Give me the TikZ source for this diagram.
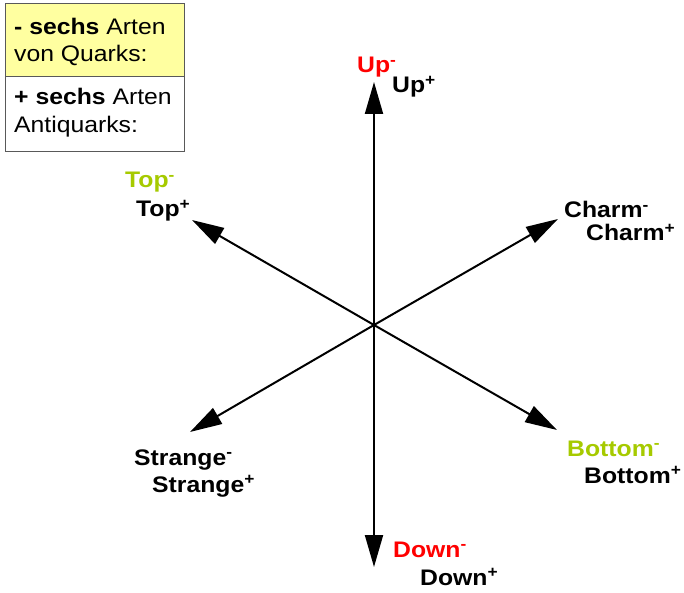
\documentclass[tikz,border=0pt]{standalone}
\usepackage{fontspec}
\setmainfont[FakeStretch=1.1]{Liberation Sans}
\usetikzlibrary{arrows.meta}
\definecolor{quarkgreen}{RGB}{166,202,0}
\definecolor{quarkyellow}{RGB}{255,255,160}
\tikzset{
  vec/.style={line width=2pt, -{Triangle[length=32pt,width=18pt]}},
  lbl/.style={anchor=base west, inner sep=0pt, font=\fontsize{22.5}{24}\bfseries\selectfont},
  boxtxt/.style={anchor=base west, inner sep=0pt, font=\fontsize{22.5}{24}\selectfont}
}
\begin{document}
\begin{tikzpicture}[x=1pt, y=-1pt]
  \useasboundingbox (0,0) rectangle (684,593);
  % legend box
  \draw [fill=quarkyellow, draw=gray!70!black, line width=1pt] (5,4) rectangle (184,77);
  \draw [fill=white, draw=gray!70!black, line width=1pt] (5,77) rectangle (184,152);
  \node [boxtxt] (q1) at (14,35) {\textbf{- sechs} Arten};
  \node [boxtxt] (q2) at (14,62) {von Quarks:};
  \node [boxtxt] (a1) at (14,105) {\textbf{+ sechs} Arten};
  \node [boxtxt] (a2) at (14,133) {Antiquarks:};
  % star of arrows
  \coordinate (O) at (374,325);
  \coordinate (up) at (374,82);
  \coordinate (down) at (374,567);
  \coordinate (top) at (192,220);
  \coordinate (charm) at (558,219);
  \coordinate (strange) at (190,432);
  \coordinate (bottom) at (557,430);
  \foreach \t in {up,down,top,charm,strange,bottom}
    \draw [vec] (O) -- (\t);
  % labels
  \node [lbl, red] (upm) at (357,73) {Up\textsuperscript{-}};
  \node [lbl] (upp) at (392,93) {Up\textsuperscript{+}};
  \node [lbl, quarkgreen] (topm) at (125,188) {Top\textsuperscript{-}};
  \node [lbl] (topp) at (136,217) {Top\textsuperscript{+}};
  \node [lbl] (charmm) at (564,218) {Charm\textsuperscript{-}};
  \node [lbl] (charmp) at (586,241) {Charm\textsuperscript{+}};
  \node [lbl] (strangem) at (134,465) {Strange\textsuperscript{-}};
  \node [lbl] (strangep) at (152,492) {Strange\textsuperscript{+}};
  \node [lbl, quarkgreen] (bottomm) at (567,456) {Bottom\textsuperscript{-}};
  \node [lbl] (bottomp) at (584,483) {Bottom\textsuperscript{+}};
  \node [lbl, red] (downm) at (393,557) {Down\textsuperscript{-}};
  \node [lbl] (downp) at (420,585) {Down\textsuperscript{+}};
\end{tikzpicture}
\end{document}
